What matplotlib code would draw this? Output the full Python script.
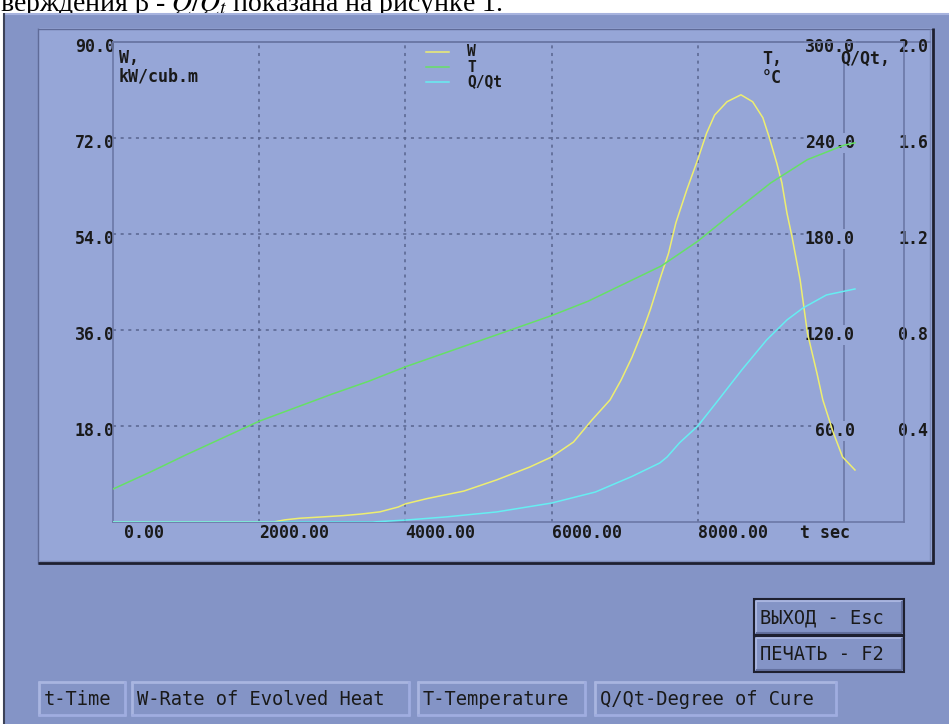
import matplotlib.pyplot as plt
from matplotlib.patches import Rectangle
from matplotlib.transforms import offset_copy

# W - rate of evolved heat, kW/cub.m
t_w = [0, 2200, 2350, 2550, 2800, 3150, 3400, 3650, 3900, 4000, 4300, 4800,
       5250, 5700, 6000, 6300, 6550, 6800, 6950, 7100, 7250, 7350, 7500, 7600,
       7700, 7850, 8000, 8120, 8230, 8400, 8590, 8750, 8890, 8980, 9080, 9150,
       9220, 9290, 9400, 9500, 9630, 9710, 9850, 9980, 10150]
w_vals = [0, 0, 0.4, 0.7, 0.9, 1.2, 1.5, 1.9, 2.8, 3.4, 4.4, 5.8,
          7.9, 10.3, 12.2, 15.0, 19.1, 22.9, 26.6, 30.9, 36.0, 39.8, 46.3, 50.4,
          56.1, 62.3, 68.0, 72.9, 76.3, 78.8, 80.1, 78.8, 75.8, 72.0, 67.3, 63.6,
          57.9, 53.4, 45.4, 35.4, 27.9, 22.9, 16.9, 12.2, 9.75]

# T - temperature, deg C
t_temp = [0, 500, 1000, 1500, 2000, 2500, 3000, 3500, 4000, 4500, 5000, 5500,
          6000, 6500, 7000, 7500, 8000, 8500, 9000, 9500, 10000, 10150]
temp_vals = [20.6, 31, 42, 52.5, 63, 71.5, 80, 88, 97, 105, 113, 121,
             129, 138, 149, 160, 175.5, 194, 212, 226.5, 235.5, 237]

# Q/Qt - degree of cure
t_q = [0, 3550, 4000, 4550, 5250, 6000, 6600, 7100, 7480, 7580, 7750, 8000,
       8260, 8600, 8940, 9220, 9440, 9760, 10150]
q_vals = [0, 0, 0.008, 0.021, 0.042, 0.079, 0.125, 0.19, 0.246, 0.271, 0.33, 0.40,
          0.50, 0.633, 0.758, 0.842, 0.892, 0.946, 0.971]

x_ticks = [0, 2000, 4000, 6000, 8000]
w_ticks = [18, 36, 54, 72, 90]
temp_ticks = [60, 120, 180, 240, 300]
q_ticks = [0.4, 0.8, 1.2, 1.6, 2.0]

W_COL = '#eeee70'
T_COL = '#66e066'
Q_COL = '#66eef2'
WIN_COL = '#8494c6'
PANEL_COL = '#96a6d7'
GRID_COL = '#58648e'
AXIS_COL = '#6b78a6'
INK = '#1a1a1a'

FIG_W, FIG_H = 949, 724
fig = plt.figure(figsize=(FIG_W / 100, FIG_H / 100), dpi=100)
fig.patch.set_facecolor('white')
plt.rcParams['mathtext.fontset'] = 'stix'

# background layer in pixel units: window, panel, buttons
bg = fig.add_axes([0, 0, 1, 1])
bg.set_xlim(0, FIG_W)
bg.set_ylim(FIG_H, 0)
bg.axis('off')

bg.text(0, 11, 'верждения β - $Q/Q_t$ показана на рисунке 1.',
        family='Liberation Serif', fontsize=20, va='baseline', ha='left',
        color='black', zorder=1)


def rect(x, y, w, h, fc, ec='none', lw=0, z=2):
    bg.add_patch(Rectangle((x, y), w, h, facecolor=fc, edgecolor=ec,
                           linewidth=lw, zorder=z))


def hline(x0, x1, y, col, lw=1, z=3):
    bg.plot([x0, x1], [y, y], color=col, lw=lw, zorder=z, solid_capstyle='butt')


def vline(x, y0, y1, col, lw=1, z=3):
    bg.plot([x, x], [y0, y1], color=col, lw=lw, zorder=z, solid_capstyle='butt')


# program window
rect(4, 13, FIG_W - 4, FIG_H - 13, WIN_COL)
hline(4, FIG_W, 13.5, '#a7b3de', lw=1.5)
vline(4.5, 13, FIG_H, '#3c4258', lw=1.5)

# plot panel
rect(38, 28, 895, 536, PANEL_COL)
hline(38, 933, 28.5, '#5f6b98', lw=1)
vline(38.5, 28, 564, '#5f6b98', lw=1)
hline(39, 932, 560.5, '#7c8ab8', lw=1)
vline(930.5, 29, 561, '#7c8ab8', lw=1)
hline(38, 934, 563, '#1e2030', lw=2)
vline(933, 28, 564, '#1e2030', lw=2)


def button(x, y, w, h, label, framed=False):
    rect(x, y, w, h, WIN_COL, z=2)
    if framed:
        rect(x, y, w, h, 'none', ec='#1e2030', lw=1.5, z=4)
        hline(x + 2, x + w - 2, y + 2, '#a9b5e0', lw=1.5)
        vline(x + 2, y + 2, y + h - 2, '#a9b5e0', lw=1.5)
        hline(x + 2, x + w - 2, y + h - 2, '#63709e', lw=1.5)
        vline(x + w - 2, y + 2, y + h - 2, '#63709e', lw=1.5)
    else:
        hline(x, x + w, y + 1, '#a9b5e0', lw=2)
        vline(x + 1, y, y + h, '#a9b5e0', lw=2)
        hline(x, x + w, y + h - 1, '#a0ade0', lw=2)
        vline(x + w - 1, y, y + h, '#a0ade0', lw=2)
    bg.text(x + 6, y + h / 2 + 1, label, family='DejaVu Sans Mono',
            fontsize=13.5, color=INK, ha='left', va='center', zorder=5)


button(754, 599, 150, 36, 'ВЫХОД - Esc', framed=True)
button(754, 636, 150, 36, 'ПЕЧАТЬ - F2', framed=True)
button(38, 681, 88, 35, 't-Time')
button(131, 681, 279, 35, 'W-Rate of Evolved Heat')
button(417, 681, 169, 35, 'T-Temperature')
button(594, 681, 243, 35, 'Q/Qt-Degree of Cure')

# chart axes
left, right, top, bottom = 113, 904, 42, 522
ax = fig.add_axes([left / FIG_W, 1 - bottom / FIG_H,
                   (right - left) / FIG_W, (bottom - top) / FIG_H])
ax.set_facecolor('none')
x_max = 10000 * (right - left) / (844 - left)
ax.set_xlim(0, x_max)
ax.set_ylim(0, 90)
ax.set_xticks([])
ax.set_yticks([])
for s in ax.spines.values():
    s.set_color(AXIS_COL)
    s.set_linewidth(1.2)

ax_t = ax.twinx()
ax_t.set_ylim(0, 300)
ax_q = ax.twinx()
ax_q.set_ylim(0, 2.0)
for a in (ax_t, ax_q):
    a.set_yticks([])
    a.axis('off')

# grid
for xv in x_ticks[1:]:
    ax.axvline(xv, color=GRID_COL, lw=1.1, ls=(0, (2, 3)), zorder=1)
for yv in w_ticks[:-1]:
    ax.plot([0, 10000], [yv, yv], color=GRID_COL, lw=1.1, ls=(0, (2, 3)), zorder=1)
ax.axvline(10000, color=AXIS_COL, lw=1.2, zorder=1)
# top border runs on to the panel edge
ax.plot([0, 1.033], [1, 1], transform=ax.transAxes, color=AXIS_COL, lw=1.2,
        clip_on=False)

# curves
ax.plot(t_w, w_vals, color=W_COL, lw=1.1, zorder=4)
ax_t.plot(t_temp, temp_vals, color=T_COL, lw=1.1, zorder=3)
ax_q.plot(t_q, q_vals, color=Q_COL, lw=1.1, zorder=3)

lab = dict(family='DejaVu Sans Mono', fontweight='bold', fontsize=12,
           color=INK)

# tick labels, kept under the curves
for a, ticks, xf in ((ax, w_ticks, 2 / (right - left)),
                     (ax_t, temp_ticks, (855 - left) / (right - left)),
                     (ax_q, q_ticks, (928 - left) / (right - left))):
    tr = offset_copy(a.get_yaxis_transform(), fig=fig, y=-5, units='dots')
    for v in ticks:
        kw = {}
        if a is ax_t:
            kw['bbox'] = dict(facecolor=PANEL_COL, edgecolor='none', pad=0.5)
        ax.text(xf, v, f'{v:.1f}', transform=tr, ha='right', va='center',
                zorder=2, clip_on=False, **kw, **lab)

for i, v in enumerate(x_ticks):
    tr = offset_copy(ax.get_xaxis_transform(), fig=fig,
                     x=11 if i == 0 else 0, y=-11, units='dots')
    ax.text(v, 0, f'{v:.2f}', transform=tr, ha='left', va='center',
            clip_on=False, **lab)
ax.text((800 - left) / (right - left), -(533 - bottom) / (bottom - top), 't sec',
        transform=ax.transAxes, ha='left', va='center', clip_on=False, **lab)

# axis titles
ax.text((119 - left) / (right - left), 1 - (49 - top) / (bottom - top),
        'W,\nkW/cub.m', transform=ax.transAxes, ha='left', va='top',
        linespacing=1.05, **lab)
ax.text((762 - left) / (right - left), 1 - (50 - top) / (bottom - top),
        'T,\n°C', transform=ax.transAxes, ha='left', va='top',
        linespacing=1.05, **lab)
ax.text((840 - left) / (right - left), 1 - (59 - top) / (bottom - top),
        'Q/Qt,', transform=ax.transAxes, ha='left', va='center', **lab)

# legend
leg = dict(lab, fontsize=10.5)
for (name, col), yp in zip((('W', W_COL), ('T', T_COL), ('Q/Qt', Q_COL)),
                           (52, 67, 82)):
    yf = 1 - (yp - top) / (bottom - top)
    ax.plot([(426 - left) / (right - left), (449 - left) / (right - left)],
            [yf, yf], transform=ax.transAxes, color=col, lw=1.1)
    ax.text((467 - left) / (right - left), yf, name, transform=ax.transAxes,
            ha='left', va='center', **leg)

fig.savefig('out.png', dpi=100)
